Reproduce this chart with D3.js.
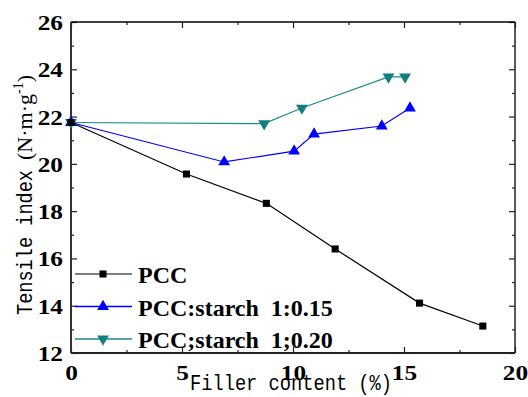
<!DOCTYPE html>
<html>
<head>
<meta charset="utf-8">
<script src="https://cdn.jsdelivr.net/npm/d3@7"></script>
<style>
  body { margin: 0; background: #fff; }
  .serif { font-family: "Liberation Serif"; }
  .mono { font-family: "Liberation Mono"; }
</style>
</head>
<body>
<div id="chart"></div>
<script>
// values
const pccX = [0, 5.2, 8.8, 11.9, 15.7, 18.55];
const pccY = [21.75, 19.57, 18.33, 16.4, 14.11, 13.14];
const s15X = [0, 6.9, 10.05, 10.95, 14.0, 15.27];
const s15Y = [21.75, 20.08, 20.54, 21.26, 21.6, 22.36];
const s20X = [0, 8.7, 10.4, 14.3, 15.05];
const s20Y = [21.75, 21.7, 22.36, 23.68, 23.68];
const xTicks = [0, 5, 10, 15, 20];
const yTicks = [12, 14, 16, 18, 20, 22, 24, 26];
const seriesNames = ["PCC", "PCC:starch  1:0.15", "PCC;starch  1;0.20"];

const W = 528, H = 397;
const svg = d3.select("#chart").append("svg").attr("width", W).attr("height", H);

const x = d3.scaleLinear().domain([0, 20]).range([71, 515]);
const y = d3.scaleLinear().domain([12, 26]).range([353, 22]);

// minor ticks
const minorX = d3.range(2.5, 20, 5);
const minorY = d3.range(13, 26, 2);

function styleAxis(g) {
    g.attr("font-family", null).attr("font-size", null);
    g.select(".domain").remove();
    g.selectAll("line").attr("stroke", "#222").attr("stroke-width", 1.2);
}

function tickText(sel, dy) {
    sel.attr("class", "serif").style("font-weight", "bold").style("font-size", "22px")
        .attr("fill", "#000").attr("dy", dy)
        .attr("transform", "scale(1.15,1)");
}

// bottom
svg.append("g").attr("transform", `translate(0,${y(12)})`)
    .call(d3.axisBottom(x).tickValues(xTicks).tickSize(-6).tickPadding(10).tickFormat(d3.format("d")))
    .call(styleAxis)
    .selectAll("text").call(tickText, "0.76em");
svg.append("g").attr("transform", `translate(0,${y(12)})`)
    .call(d3.axisBottom(x).tickValues(minorX).tickSize(-3).tickFormat(""))
    .call(styleAxis);
// top
svg.append("g").attr("transform", `translate(0,${y(26)})`)
    .call(d3.axisTop(x).tickValues(xTicks).tickSize(-6).tickFormat(""))
    .call(styleAxis);
svg.append("g").attr("transform", `translate(0,${y(26)})`)
    .call(d3.axisTop(x).tickValues(minorX).tickSize(-3).tickFormat(""))
    .call(styleAxis);
// left
svg.append("g").attr("transform", `translate(${x(0)},0)`)
    .call(d3.axisLeft(y).tickValues(yTicks).tickSize(-6).tickPadding(7).tickFormat(d3.format("d")))
    .call(styleAxis)
    .selectAll("text").call(tickText, "0.34em");
svg.append("g").attr("transform", `translate(${x(0)},0)`)
    .call(d3.axisLeft(y).tickValues(minorY).tickSize(-3).tickFormat(""))
    .call(styleAxis);
// right
svg.append("g").attr("transform", `translate(${x(20)},0)`)
    .call(d3.axisRight(y).tickValues(yTicks).tickSize(-6).tickFormat(""))
    .call(styleAxis);
svg.append("g").attr("transform", `translate(${x(20)},0)`)
    .call(d3.axisRight(y).tickValues(minorY).tickSize(-3).tickFormat(""))
    .call(styleAxis);

// frame
svg.append("line").attr("x1", x(0)).attr("x2", x(20)).attr("y1", y(26)).attr("y2", y(26))
    .attr("stroke", "#000").attr("stroke-width", 1.5);
svg.append("line").attr("x1", x(20)).attr("x2", x(20)).attr("y1", y(26)).attr("y2", y(12))
    .attr("stroke", "#222").attr("stroke-width", 1.5);
svg.append("line").attr("x1", x(0)).attr("x2", x(20)).attr("y1", y(12)).attr("y2", y(12))
    .attr("stroke", "#222").attr("stroke-width", 1.8);
svg.append("line").attr("x1", x(0)).attr("x2", x(0)).attr("y1", y(26)).attr("y2", y(12))
    .attr("stroke", "#333").attr("stroke-width", 2);

// series
const series = [
    { xs: pccX, ys: pccY, line: "#000", fill: "#000", sym: d3.symbolSquare, size: 50, rot: 0 },
    { xs: s15X, ys: s15Y, line: "#0000ff", fill: "#0000ff", sym: d3.symbolTriangle, size: 60, rot: 0 },
    { xs: s20X, ys: s20Y, line: "#1a8c8c", fill: "#0f7f7f", sym: d3.symbolTriangle, size: 60, rot: 180 }
];

const line = d3.line().x(d => x(d[0])).y(d => y(d[1]));
const plot = svg.append("g");

series.slice().reverse().forEach(s => {
    const pts = s.xs.map((v, i) => [v, s.ys[i]]);
    plot.append("path").datum(pts)
        .attr("d", line).attr("fill", "none")
        .attr("stroke", s.line).attr("stroke-width", 1.2);
    plot.selectAll(null).data(pts).join("path")
        .attr("d", d3.symbol().type(s.sym).size(s.size))
        .attr("transform", d => `translate(${x(d[0])},${y(d[1])}) rotate(${s.rot})`)
        .attr("fill", s.fill);
});

// legend
const legend = svg.append("g").attr("transform", "translate(75,274)");
series.forEach((s, i) => {
    const row = legend.append("g").attr("transform", `translate(0,${i * 32.5})`);
    row.append("line").attr("x1", 0).attr("x2", 57).attr("y1", 0).attr("y2", 0)
        .attr("stroke", i === 0 ? "#555" : s.line).attr("stroke-width", 1.5);
    row.append("path")
        .attr("d", d3.symbol().type(s.sym).size(s.size))
        .attr("transform", `translate(28,0) rotate(${s.rot})`)
        .attr("fill", s.fill);
    row.append("text").attr("class", "serif").attr("x", 63).attr("y", 9)
        .style("font-weight", "bold").style("font-size", "24px")
        .attr("fill", "#000").style("white-space", "pre")
        .text(seriesNames[i]);
});

// axis titles
svg.append("text").attr("class", "mono")
    .attr("x", 190).attr("y", 390)
    .attr("textLength", 202).attr("lengthAdjust", "spacingAndGlyphs")
    .style("font-size", "22px").attr("fill", "#000")
    .style("white-space", "pre")
    .text("Filler content (%)");

svg.append("text").attr("class", "mono")
    .attr("transform", "translate(32,315) rotate(-90)")
    .attr("textLength", 145).attr("lengthAdjust", "spacingAndGlyphs")
    .style("font-size", "22px").attr("fill", "#000")
    .style("white-space", "pre")
    .text("Tensile index");

const unit = svg.append("text").attr("class", "serif")
    .attr("transform", "translate(32,160) rotate(-90)")
    .style("font-size", "22px").attr("fill", "#000");
unit.append("tspan").text("(N·m·g");
unit.append("tspan").style("font-size", "14px").attr("dy", -9).text("-1");
unit.append("tspan").attr("dy", 9).text(")");
</script>
</body>
</html>
